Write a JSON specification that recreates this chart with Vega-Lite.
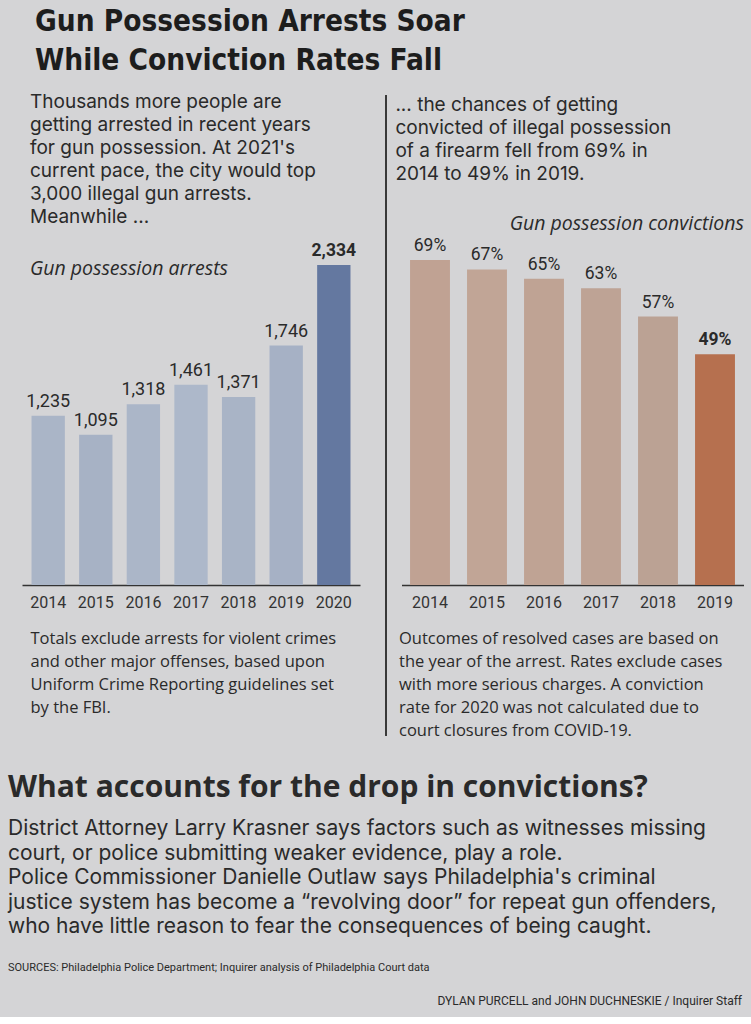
{
  "$schema": "https://vega.github.io/schema/vega-lite/v6.json",
  "background": "#d4d4d6",
  "padding": {"left": 8, "top": 6, "right": 9, "bottom": 0},
  "title": {
    "text": ["Gun Possession Arrests Soar", "While Conviction Rates Fall"],
    "anchor": "start",
    "font": "DejaVu Sans Condensed, sans-serif",
    "fontSize": 29.5,
    "fontWeight": "bold",
    "color": "#1d1d1d",
    "lineHeight": 39,
    "dx": 27,
    "offset": 17
  },
  "config": {
    "view": {"stroke": null},
    "font": "Inter",
    "text": {"font": "Roboto", "color": "#2a2a2a"},
    "axis": {"labelFont": "Roboto", "titleFont": "Open Sans"},
    "title": {"font": "Inter", "color": "#2a2a2a", "subtitleColor": "#2a2a2a", "subtitleFont": "Open Sans"}
  },
  "datasets": {
    "arrests": [
      {"year": "2014", "arrests": 1235},
      {"year": "2015", "arrests": 1095},
      {"year": "2016", "arrests": 1318},
      {"year": "2017", "arrests": 1461},
      {"year": "2018", "arrests": 1371},
      {"year": "2019", "arrests": 1746},
      {"year": "2020", "arrests": 2334}
    ],
    "convictions": [
      {"year": "2014", "rate": 0.69},
      {"year": "2015", "rate": 0.67},
      {"year": "2016", "rate": 0.65},
      {"year": "2017", "rate": 0.63},
      {"year": "2018", "rate": 0.57},
      {"year": "2019", "rate": 0.49}
    ],
    "credits": [
      {"part": "sources", "text": "SOURCES: Philadelphia Police Department; Inquirer analysis of Philadelphia Court data"},
      {"part": "byline", "text": "DYLAN PURCELL and JOHN DUCHNESKIE / Inquirer Staff"}
    ]
  },
  "vconcat": [
    {
      "hconcat": [
        {
          "data": {"name": "arrests"},
          "width": 338,
          "height": 325,
          "title": {
            "text": ["Thousands more people are", "getting arrested in recent years", "for gun possession. At 2021's", "current pace, the city would top", "3,000 illegal gun arrests.", "Meanwhile ..."],
            "subtitle": "Gun possession arrests",
            "anchor": "start",
            "dx": 8,
            "fontSize": 19,
            "fontWeight": "normal",
            "lineHeight": 23,
            "subtitleFontSize": 19.5,
            "subtitleFontStyle": "italic",
            "subtitlePadding": 33,
            "offset": -37
          },
          "encoding": {
            "x": {
              "field": "year",
              "type": "ordinal",
              "scale": {"paddingInner": 0.3, "paddingOuter": 0.2},
              "axis": {
                "labelAngle": 0,
                "ticks": false,
                "domainColor": "#333333",
                "domainWidth": 1.5,
                "labelFontSize": 16,
                "labelColor": "#333333",
                "labelPadding": 9,
                "title": ["Totals exclude arrests for violent crimes", "and other major offenses, based upon", "Uniform Crime Reporting guidelines set", "by the FBI."],
                "titleAnchor": "start",
                "titleAlign": "left",
                "titleFontSize": 16.5,
                "titleFontWeight": "normal",
                "titleColor": "#2a2a2a",
                "titleLineHeight": 23,
                "titlePadding": 20,
                "titleX": 8
              }
            },
            "y": {"field": "arrests", "type": "quantitative", "scale": {"domain": [0, 2370]}, "axis": null}
          },
          "layer": [
            {
              "mark": {"type": "bar"},
              "encoding": {
                "color": {
                  "field": "year",
                  "type": "nominal",
                  "scale": {"domain": ["2014", "2015", "2016", "2017", "2018", "2019", "2020"], "range": ["#aab5c7", "#a7b2c5", "#abb6c8", "#adb8ca", "#a9b4c6", "#a6b1c5", "#6478a0"]},
                  "legend": null
                }
              }
            },
            {
              "transform": [{"filter": "datum.year !== '2020'"}],
              "mark": {"type": "text", "baseline": "bottom", "dy": -5, "fontSize": 18},
              "encoding": {"text": {"field": "arrests", "type": "quantitative", "format": ","}}
            },
            {
              "transform": [{"filter": "datum.year === '2020'"}],
              "mark": {"type": "text", "baseline": "bottom", "dy": -5, "fontSize": 17.5, "fontWeight": "bold"},
              "encoding": {"text": {"field": "arrests", "type": "quantitative", "format": ","}}
            }
          ]
        },
        {
          "data": {"name": "convictions"},
          "width": 342,
          "height": 325,
          "title": {
            "text": ["... the chances of getting", "convicted of illegal possession", "of a firearm fell from 69% in", "2014 to 49% in 2019."],
            "anchor": "start",
            "dx": 10,
            "fontSize": 19,
            "fontWeight": "normal",
            "lineHeight": 23,
            "offset": -90
          },
          "encoding": {
            "y": {"field": "rate", "type": "quantitative", "scale": {"domain": [0, 0.69]}, "axis": null}
          },
          "layer": [
            {
              "mark": {"type": "rule", "color": "#3a3a3a", "strokeWidth": 1.3, "xOffset": -24},
              "encoding": {
                "x": {"datum": "2014", "type": "ordinal", "bandPosition": 0, "axis": null},
                "y": {"datum": 1.04},
                "y2": {"datum": -0.32}
              }
            },
            {
              "mark": {"type": "bar"},
              "encoding": {
                "x": {
                  "field": "year",
                  "type": "ordinal",
                  "scale": {"paddingInner": 0.3, "paddingOuter": 0.15},
                  "axis": {
                    "labelAngle": 0,
                    "ticks": false,
                    "domainColor": "#333333",
                    "domainWidth": 1.5,
                    "labelFontSize": 16,
                    "labelColor": "#333333",
                    "labelPadding": 9,
                    "title": ["Outcomes of resolved cases are based on", "the year of the arrest. Rates exclude cases", "with more serious charges. A conviction", "rate for 2020 was not calculated due to", "court closures from COVID-19."],
                    "titleAnchor": "start",
                    "titleAlign": "left",
                    "titleFontSize": 16.5,
                    "titleFontWeight": "normal",
                    "titleColor": "#2a2a2a",
                    "titleLineHeight": 23,
                    "titlePadding": 20,
                    "titleX": -3
                  }
                },
                "color": {
                  "field": "year",
                  "type": "nominal",
                  "scale": {"domain": ["2014", "2015", "2016", "2017", "2018", "2019"], "range": ["#c0a293", "#c1a596", "#bfa394", "#bea395", "#bba294", "#b6704f"]},
                  "legend": null
                }
              }
            },
            {
              "transform": [{"filter": "datum.year !== '2019'"}],
              "mark": {"type": "text", "baseline": "bottom", "dy": -5, "fontSize": 17.5},
              "encoding": {
                "x": {
                  "field": "year",
                  "type": "ordinal",
                  "axis": {
                    "orient": "top",
                    "labels": false,
                    "ticks": false,
                    "domain": false,
                    "title": "Gun possession convictions",
                    "titleAnchor": "end",
                    "titleAlign": "right",
                    "titleFont": "Open Sans",
                    "titleFontStyle": "italic",
                    "titleFontWeight": "normal",
                    "titleFontSize": 19.5,
                    "titleColor": "#2a2a2a",
                    "titlePadding": 27
                  }
                },
                "text": {"field": "rate", "type": "quantitative", "format": ".0%"}
              }
            },
            {
              "transform": [{"filter": "datum.year === '2019'"}],
              "mark": {"type": "text", "baseline": "bottom", "dy": -5, "fontSize": 17.5, "fontWeight": "bold"},
              "encoding": {
                "x": {"field": "year", "type": "ordinal", "axis": null},
                "text": {"field": "rate", "type": "quantitative", "format": ".0%"}
              }
            }
          ],
          "resolve": {"axis": {"x": "independent"}}
        }
      ],
      "spacing": 24.5,
      "resolve": {"scale": {"color": "independent", "x": "independent", "y": "independent"}}
    },
    {
      "data": {"name": "credits"},
      "width": 720,
      "height": 66,
      "title": {
        "text": "What accounts for the drop in convictions?",
        "subtitle": ["District Attorney Larry Krasner says factors such as witnesses missing", "court, or police submitting weaker evidence, play a role.", "Police Commissioner Danielle Outlaw says Philadelphia's criminal", "justice system has become a \u201crevolving door\u201d for repeat gun offenders,", "who have little reason to fear the consequences of being caught."],
        "anchor": "start",
        "font": "Open Sans",
        "fontSize": 30,
        "fontWeight": "bold",
        "color": "#2a2a2a",
        "subtitleFont": "Inter",
        "subtitleFontSize": 21,
        "subtitleLineHeight": 24.5,
        "subtitlePadding": 15,
        "offset": 14
      },
      "encoding": {
        "y": {"field": "part", "type": "nominal", "sort": ["sources", "byline"], "axis": null}
      },
      "layer": [
        {
          "transform": [{"filter": "datum.part === 'sources'"}],
          "mark": {"type": "text", "align": "left", "fontSize": 11, "dx": -14},
          "encoding": {
            "x": {"datum": 0, "type": "quantitative", "scale": {"domain": [0, 1]}, "axis": null},
            "text": {"field": "text"}
          }
        },
        {
          "transform": [{"filter": "datum.part === 'byline'"}],
          "mark": {"type": "text", "align": "right", "fontSize": 12},
          "encoding": {
            "x": {"datum": 1, "type": "quantitative", "scale": {"domain": [0, 1]}, "axis": null},
            "text": {"field": "text"}
          }
        }
      ]
    }
  ],
  "spacing": 34
}
